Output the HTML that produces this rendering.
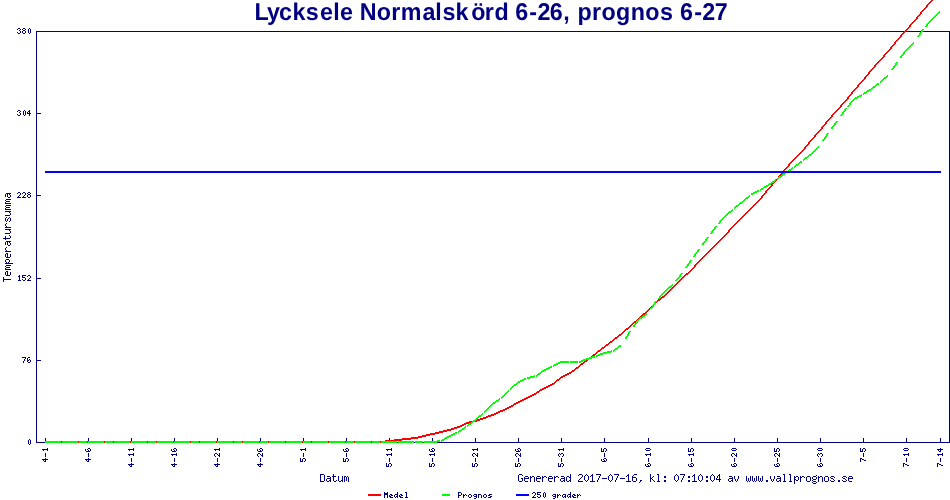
<!DOCTYPE html>
<html><head><meta charset="utf-8"><title>Lycksele</title>
<style>
html,body{margin:0;padding:0;background:#fff;}
#c{position:relative;width:950px;height:500px;overflow:hidden;background:#fff;}
svg{position:absolute;left:0;top:0;will-change:transform;transform:translateZ(0);}
</style></head><body>
<div id="c">
<svg width="950" height="500" viewBox="0 0 950 500" shape-rendering="crispEdges">
<path fill="#000080" d="M20 29h1v1h-1zM20 31h1v2h-1zM20 111h1v1h-1zM20 113h1v2h-1zM20 193h1v2h-1zM22 29h1v1h-1zM22 31h1v2h-1zM22 193h1v1h-1zM22 276h1v1h-1zM22 279h1v1h-1zM25 29h1v1h-1zM25 31h1v2h-1zM25 111h1v4h-1zM25 193h1v2h-1zM25 278h1v2h-1zM25 358h1v1h-1zM28 29h1v4h-1zM28 279h1v1h-1zM28 440h1v4h-1zM30 29h1v4h-1zM30 193h1v1h-1zM30 195h1v2h-1zM30 276h1v2h-1zM30 360h1v2h-1zM30 440h1v4h-1zM36 31h868v1h-868zM906 31h15v1h-15zM923 31h27v1h-27zM36 442h9v1h-9zM397 442h1v1h-1zM397 492h1v2h-1zM397 495h1v1h-1zM397 497h1v1h-1zM414 442h1v1h-1zM423 442h1v1h-1zM437 442h513v1h-513zM17 29h1v1h-1zM17 32h1v1h-1zM17 111h1v1h-1zM17 114h1v1h-1zM17 193h1v1h-1zM36 32h1v81h-1zM36 114h1v81h-1zM36 196h1v82h-1zM36 279h1v81h-1zM36 361h1v81h-1zM949 32h1v410h-1zM18 28h2v1h-2zM18 33h2v1h-2zM18 110h2v1h-2zM18 115h2v1h-2zM18 192h2v1h-2zM18 276h2v1h-2zM23 28h2v1h-2zM23 30h2v1h-2zM23 33h2v1h-2zM23 192h2v1h-2zM23 280h2v1h-2zM29 28h1v1h-1zM29 33h1v1h-1zM29 110h1v1h-1zM29 112h1v1h-1zM29 114h1v2h-1zM29 278h1v1h-1zM29 359h1v1h-1zM29 439h1v1h-1zM29 444h1v1h-1zM24 110h1v1h-1zM24 115h1v1h-1zM24 195h1v1h-1zM24 359h1v2h-1zM23 111h1v4h-1zM23 196h1v1h-1zM23 361h1v2h-1zM28 111h2v1h-2zM28 192h2v1h-2zM28 194h2v1h-2zM28 197h2v1h-2zM28 275h2v1h-2zM28 357h2v1h-2zM28 362h2v1h-2zM19 30h1v1h-1zM19 112h1v1h-1zM19 195h1v1h-1zM19 275h1v1h-1zM19 277h1v3h-1zM27 112h1v1h-1zM27 193h1v1h-1zM27 195h1v2h-1zM27 276h1v1h-1zM27 358h1v2h-1zM27 361h1v1h-1zM27 113h4v1h-4zM27 280h4v1h-4zM36 113h5v1h-5zM36 195h5v1h-5zM36 278h5v1h-5zM36 360h5v1h-5zM6 193h5v1h-5zM6 199h5v1h-5zM6 205h5v1h-5zM6 241h5v1h-5zM6 265h5v1h-5zM5 194h1v3h-1zM5 200h1v1h-1zM5 202h1v1h-1zM5 206h1v1h-1zM5 208h1v1h-1zM5 218h1v3h-1zM5 224h1v2h-1zM5 236h1v2h-1zM5 239h1v1h-1zM5 242h1v3h-1zM5 248h1v2h-1zM5 254h1v3h-1zM5 260h1v2h-1zM5 266h1v1h-1zM5 268h1v1h-1zM5 272h1v3h-1zM7 194h1v3h-1zM7 219h1v2h-1zM7 242h1v3h-1zM7 254h1v3h-1zM7 272h1v3h-1zM9 194h1v1h-1zM9 212h1v1h-1zM9 217h1v1h-1zM9 221h1v1h-1zM9 230h1v1h-1zM9 235h1v1h-1zM9 242h1v1h-1zM9 260h1v2h-1zM10 195h1v2h-1zM10 213h1v2h-1zM10 218h1v3h-1zM10 231h1v2h-1zM10 236h1v2h-1zM10 243h1v2h-1zM10 254h1v3h-1zM10 272h1v3h-1zM18 196h1v1h-1zM8 197h2v1h-2zM8 245h2v1h-2zM17 197h4v1h-4zM22 197h4v1h-4zM22 275h4v1h-4zM22 357h4v1h-4zM6 201h4v1h-4zM6 207h4v1h-4zM6 257h4v1h-4zM6 267h4v1h-4zM6 275h4v1h-4zM5 203h6v1h-6zM5 209h6v1h-6zM5 211h6v1h-6zM5 227h6v1h-6zM5 229h6v1h-6zM5 251h6v1h-6zM5 269h6v1h-6zM5 215h5v1h-5zM5 233h5v1h-5zM6 217h1v1h-1zM6 221h1v1h-1zM6 223h1v1h-1zM6 226h1v1h-1zM6 247h1v1h-1zM6 250h1v1h-1zM6 262h1v1h-1zM8 218h1v1h-1zM8 262h1v1h-1zM3 238h7v1h-7zM6 253h2v1h-2zM6 271h2v1h-2zM6 259h3v1h-3zM5 263h8v1h-8zM3 277h1v2h-1zM3 280h1v2h-1zM22 277h3v1h-3zM3 279h8v1h-8zM18 280h3v1h-3zM27 360h2v1h-2zM45 438h1v3h-1zM45 453h1v4h-1zM45 458h1v1h-1zM45 460h1v1h-1zM88 438h1v3h-1zM88 450h1v1h-1zM88 453h1v4h-1zM88 458h1v1h-1zM88 460h1v1h-1zM131 438h1v3h-1zM131 458h1v4h-1zM131 463h1v1h-1zM131 465h1v1h-1zM174 438h1v3h-1zM174 450h1v1h-1zM174 458h1v4h-1zM174 463h1v1h-1zM174 465h1v1h-1zM217 438h1v3h-1zM217 454h1v1h-1zM217 458h1v4h-1zM217 463h1v1h-1zM217 465h1v1h-1zM260 438h1v3h-1zM260 450h1v1h-1zM260 454h1v1h-1zM260 458h1v4h-1zM260 463h1v1h-1zM260 465h1v1h-1zM303 438h1v3h-1zM303 453h1v4h-1zM346 438h1v3h-1zM346 450h1v1h-1zM346 453h1v4h-1zM346 477h1v4h-1zM389 438h1v2h-1zM389 458h1v4h-1zM389 495h1v1h-1zM432 438h1v3h-1zM432 450h1v1h-1zM432 458h1v4h-1zM475 438h1v4h-1zM475 454h1v1h-1zM475 458h1v4h-1zM518 438h1v4h-1zM518 450h1v1h-1zM518 454h1v1h-1zM518 458h1v4h-1zM518 475h1v6h-1zM561 438h1v4h-1zM561 458h1v4h-1zM604 438h1v4h-1zM604 453h1v4h-1zM604 460h1v1h-1zM648 438h1v4h-1zM648 458h1v4h-1zM648 465h1v1h-1zM691 438h1v4h-1zM691 458h1v4h-1zM691 465h1v1h-1zM734 438h1v4h-1zM734 454h1v1h-1zM734 458h1v4h-1zM734 465h1v1h-1zM734 476h1v3h-1zM777 438h1v4h-1zM777 454h1v1h-1zM777 458h1v4h-1zM777 465h1v1h-1zM820 438h1v4h-1zM820 458h1v4h-1zM820 465h1v1h-1zM863 438h1v4h-1zM863 453h1v4h-1zM906 438h1v4h-1zM906 458h1v4h-1zM940 438h1v4h-1zM940 448h1v1h-1zM940 450h1v1h-1zM940 458h1v4h-1zM42 449h6v1h-6zM42 459h6v1h-6zM85 459h6v1h-6zM300 458h1v3h-1zM302 459h1v2h-1zM305 448h1v1h-1zM305 450h1v1h-1zM305 459h1v2h-1zM343 449h1v2h-1zM343 458h1v3h-1zM345 449h1v1h-1zM345 459h1v2h-1zM348 449h1v2h-1zM348 459h1v2h-1zM348 477h1v5h-1zM601 448h1v3h-1zM601 459h1v2h-1zM603 449h1v2h-1zM603 459h1v1h-1zM606 449h1v2h-1zM606 459h1v2h-1zM860 448h1v3h-1zM860 459h1v3h-1zM862 459h2v1h-2zM43 450h1v1h-1zM43 460h1v1h-1zM86 460h1v1h-1zM864 460h2v1h-2zM44 461h2v1h-2zM87 461h2v1h-2zM300 461h3v1h-3zM304 461h1v1h-1zM343 461h3v1h-3zM347 461h1v1h-1zM347 476h1v1h-1zM602 461h4v1h-4zM303 458h2v1h-2zM346 448h2v1h-2zM346 458h2v1h-2zM604 448h2v1h-2zM604 458h2v1h-2zM860 458h2v1h-2zM215 450h1v1h-1zM215 456h1v1h-1zM215 465h1v1h-1zM219 448h1v1h-1zM219 450h1v1h-1zM219 453h1v2h-1zM219 456h1v1h-1zM258 456h1v1h-1zM258 465h1v1h-1zM262 449h1v2h-1zM262 453h1v2h-1zM262 456h1v1h-1zM473 450h1v1h-1zM473 456h1v1h-1zM473 495h1v1h-1zM477 448h1v1h-1zM477 450h1v1h-1zM477 453h1v2h-1zM477 456h1v1h-1zM477 464h1v2h-1zM516 456h1v1h-1zM520 449h1v2h-1zM520 453h1v2h-1zM520 456h1v1h-1zM520 464h1v2h-1zM559 450h1v1h-1zM559 453h1v1h-1zM559 456h1v1h-1zM559 494h1v1h-1zM562 456h1v1h-1zM562 466h1v1h-1zM562 495h1v2h-1zM732 456h1v1h-1zM732 477h1v1h-1zM732 479h1v1h-1zM732 481h1v1h-1zM736 449h1v1h-1zM736 453h1v2h-1zM736 456h1v1h-1zM736 464h1v2h-1zM736 481h1v1h-1zM775 456h1v1h-1zM779 449h1v2h-1zM779 453h1v2h-1zM779 456h1v1h-1zM779 464h1v2h-1zM818 453h1v1h-1zM818 456h1v1h-1zM818 476h1v1h-1zM818 478h1v4h-1zM821 456h1v1h-1zM129 450h1v1h-1zM129 455h1v1h-1zM129 465h1v1h-1zM133 448h1v1h-1zM133 450h1v1h-1zM133 453h1v1h-1zM133 455h1v1h-1zM172 455h1v1h-1zM172 465h1v1h-1zM176 449h1v2h-1zM176 453h1v1h-1zM176 455h1v1h-1zM214 454h1v2h-1zM218 455h2v1h-2zM257 449h1v2h-1zM257 454h1v2h-1zM261 455h2v1h-2zM387 450h1v1h-1zM387 455h1v1h-1zM387 492h1v1h-1zM387 495h1v3h-1zM391 448h1v1h-1zM391 450h1v1h-1zM391 453h1v1h-1zM391 455h1v1h-1zM391 464h1v2h-1zM430 455h1v1h-1zM434 449h1v2h-1zM434 453h1v1h-1zM434 455h1v1h-1zM434 464h1v2h-1zM472 454h1v2h-1zM472 463h1v3h-1zM476 455h2v1h-2zM515 449h1v2h-1zM515 454h1v2h-1zM515 463h1v3h-1zM519 455h2v1h-2zM558 454h1v2h-1zM558 463h1v3h-1zM558 477h1v1h-1zM563 448h1v1h-1zM563 450h1v1h-1zM563 454h1v2h-1zM563 464h1v2h-1zM563 497h1v1h-1zM646 455h1v1h-1zM650 449h1v1h-1zM650 453h1v1h-1zM650 455h1v1h-1zM650 464h1v2h-1zM650 474h1v4h-1zM650 479h1v3h-1zM689 455h1v1h-1zM693 449h1v2h-1zM693 453h1v1h-1zM693 455h1v1h-1zM693 464h1v2h-1zM731 449h1v1h-1zM731 454h1v2h-1zM731 464h1v2h-1zM735 455h2v1h-2zM774 448h1v3h-1zM774 454h1v2h-1zM774 464h1v2h-1zM774 476h1v3h-1zM778 455h2v1h-2zM817 449h1v1h-1zM817 454h1v2h-1zM817 464h1v2h-1zM822 449h1v1h-1zM822 454h1v2h-1zM822 464h1v2h-1zM822 477h1v5h-1zM904 455h1v1h-1zM908 449h1v1h-1zM908 453h1v1h-1zM908 455h1v1h-1zM938 450h1v1h-1zM938 455h1v1h-1zM942 453h1v1h-1zM942 455h1v1h-1zM128 449h6v1h-6zM128 454h6v1h-6zM128 464h6v1h-6zM171 454h6v1h-6zM171 464h6v1h-6zM386 449h6v1h-6zM386 454h6v1h-6zM429 454h6v1h-6zM560 454h1v1h-1zM560 464h1v2h-1zM560 479h1v2h-1zM560 495h1v1h-1zM645 454h6v1h-6zM688 454h6v1h-6zM819 454h1v1h-1zM819 464h1v1h-1zM903 454h6v1h-6zM937 449h6v1h-6zM937 454h6v1h-6zM215 453h2v1h-2zM258 453h2v1h-2zM473 453h2v1h-2zM516 453h2v1h-2zM561 453h2v1h-2zM561 463h2v1h-2zM561 481h2v1h-2zM732 453h2v1h-2zM775 453h2v1h-2zM820 453h2v1h-2zM820 463h2v1h-2zM820 476h2v1h-2zM85 449h1v2h-1zM87 449h1v1h-1zM90 449h1v2h-1zM171 449h1v2h-1zM173 449h1v1h-1zM214 449h6v1h-6zM214 464h6v1h-6zM259 449h1v1h-1zM300 449h6v1h-6zM429 449h1v2h-1zM429 463h1v3h-1zM431 449h1v1h-1zM431 464h1v2h-1zM472 449h6v1h-6zM517 449h1v1h-1zM517 464h1v2h-1zM558 449h6v1h-6zM645 449h1v1h-1zM645 464h1v2h-1zM688 448h1v3h-1zM688 464h1v2h-1zM690 449h1v2h-1zM690 464h1v1h-1zM776 449h1v2h-1zM776 464h1v1h-1zM776 479h1v2h-1zM862 449h1v2h-1zM865 449h1v2h-1zM903 449h1v1h-1zM903 464h1v3h-1zM47 448h1v1h-1zM47 450h1v1h-1zM301 450h1v1h-1zM646 448h4v1h-4zM646 450h4v1h-4zM646 466h4v1h-4zM732 448h4v1h-4zM732 450h4v1h-4zM732 466h4v1h-4zM818 448h4v1h-4zM818 450h4v1h-4zM818 466h4v1h-4zM904 448h4v1h-4zM904 450h4v1h-4zM88 448h2v1h-2zM174 448h2v1h-2zM260 448h2v1h-2zM432 448h2v1h-2zM432 463h2v1h-2zM518 448h2v1h-2zM518 463h2v1h-2zM691 448h2v1h-2zM691 463h2v1h-2zM777 448h2v1h-2zM777 463h2v1h-2zM777 481h2v1h-2zM863 448h2v1h-2zM86 451h4v1h-4zM172 451h4v1h-4zM258 451h4v1h-4zM344 451h4v1h-4zM430 451h4v1h-4zM516 451h4v1h-4zM601 451h3v1h-3zM605 451h1v1h-1zM688 451h3v1h-3zM692 451h1v1h-1zM692 476h1v1h-1zM774 451h3v1h-3zM778 451h1v1h-1zM860 451h3v1h-3zM864 451h1v1h-1zM939 451h2v1h-2zM939 464h2v1h-2zM257 464h6v1h-6zM386 463h1v3h-1zM388 464h1v2h-1zM474 464h1v2h-1zM647 464h1v1h-1zM733 464h1v1h-1zM905 464h2v1h-2zM937 464h1v3h-1zM907 465h2v1h-2zM941 465h2v1h-2zM130 466h2v1h-2zM173 466h2v1h-2zM216 466h2v1h-2zM259 466h2v1h-2zM386 466h3v1h-3zM390 466h1v1h-1zM429 466h3v1h-3zM433 466h1v1h-1zM472 466h3v1h-3zM476 466h1v1h-1zM476 495h1v1h-1zM476 497h1v1h-1zM515 466h3v1h-3zM519 466h1v1h-1zM558 466h3v1h-3zM689 466h4v1h-4zM775 466h4v1h-4zM389 463h2v1h-2zM389 496h2v1h-2zM475 463h2v1h-2zM648 463h2v1h-2zM734 463h2v1h-2zM903 463h2v1h-2zM937 463h2v1h-2zM320 474h4v1h-4zM320 481h4v1h-4zM333 474h1v2h-1zM333 477h1v4h-1zM519 474h3v1h-3zM519 481h3v1h-3zM570 474h1v3h-1zM570 478h1v2h-1zM570 481h1v1h-1zM570 492h1v2h-1zM570 495h1v1h-1zM570 497h1v1h-1zM579 474h3v1h-3zM586 474h1v1h-1zM586 481h1v1h-1zM592 474h1v1h-1zM592 476h1v5h-1zM596 474h5v1h-5zM610 474h1v1h-1zM610 481h1v1h-1zM614 474h5v1h-5zM628 474h1v1h-1zM628 476h1v5h-1zM634 474h3v1h-3zM657 474h2v1h-2zM676 474h1v1h-1zM676 481h1v1h-1zM680 474h5v1h-5zM694 474h1v1h-1zM694 476h1v5h-1zM700 474h1v1h-1zM700 481h1v1h-1zM712 474h1v1h-1zM712 481h1v1h-1zM719 474h1v1h-1zM719 476h1v3h-1zM719 480h1v2h-1zM783 474h2v1h-2zM789 474h2v1h-2zM320 475h1v6h-1zM324 475h1v6h-1zM522 475h1v1h-1zM522 479h1v2h-1zM578 475h1v1h-1zM578 480h1v1h-1zM582 475h1v2h-1zM585 475h1v1h-1zM585 480h1v1h-1zM587 475h1v1h-1zM587 480h1v1h-1zM591 475h2v1h-2zM600 475h1v1h-1zM609 475h1v1h-1zM609 480h1v1h-1zM611 475h1v1h-1zM611 480h1v1h-1zM618 475h1v1h-1zM627 475h2v1h-2zM633 475h1v1h-1zM658 475h1v6h-1zM675 475h1v1h-1zM675 480h1v1h-1zM677 475h1v1h-1zM677 480h1v1h-1zM684 475h1v1h-1zM693 475h2v1h-2zM699 475h1v1h-1zM699 480h1v1h-1zM701 475h1v1h-1zM701 480h1v1h-1zM711 475h1v1h-1zM711 480h1v1h-1zM713 475h1v1h-1zM713 480h1v1h-1zM718 475h2v1h-2zM784 475h1v6h-1zM790 475h1v6h-1zM816 475h1v1h-1zM816 477h1v2h-1zM816 482h1v1h-1zM327 476h3v1h-3zM332 476h4v1h-4zM338 476h1v5h-1zM342 476h1v4h-1zM342 481h1v1h-1zM344 476h2v1h-2zM525 476h3v1h-3zM525 481h3v1h-3zM530 476h1v1h-1zM530 478h1v4h-1zM532 476h2v1h-2zM537 476h3v1h-3zM537 481h3v1h-3zM537 494h3v1h-3zM542 476h1v1h-1zM542 478h1v4h-1zM544 476h2v1h-2zM549 476h3v1h-3zM549 481h3v1h-3zM554 476h1v1h-1zM554 478h1v4h-1zM556 476h2v1h-2zM561 476h3v1h-3zM567 476h2v1h-2zM567 481h2v1h-2zM584 476h1v4h-1zM588 476h1v4h-1zM590 476h1v1h-1zM599 476h1v2h-1zM608 476h1v4h-1zM612 476h1v4h-1zM617 476h1v2h-1zM626 476h1v1h-1zM632 476h1v1h-1zM632 478h1v3h-1zM653 476h1v1h-1zM653 480h1v1h-1zM664 476h2v2h-2zM664 480h2v2h-2zM674 476h1v4h-1zM678 476h1v4h-1zM683 476h1v2h-1zM688 476h2v2h-2zM688 480h2v2h-2zM698 476h1v4h-1zM702 476h1v4h-1zM706 476h2v2h-2zM706 480h2v2h-2zM710 476h1v4h-1zM714 476h1v4h-1zM717 476h1v2h-1zM729 476h3v1h-3zM738 476h1v3h-1zM746 476h1v5h-1zM750 476h1v5h-1zM752 476h1v5h-1zM756 476h1v5h-1zM758 476h1v5h-1zM762 476h1v5h-1zM770 476h1v3h-1zM777 476h3v1h-3zM794 476h1v1h-1zM794 478h1v1h-1zM794 480h1v4h-1zM796 476h2v1h-2zM796 480h2v1h-2zM800 476h1v1h-1zM800 478h1v4h-1zM802 476h2v1h-2zM807 476h3v1h-3zM807 481h3v1h-3zM813 476h3v1h-3zM813 479h3v1h-3zM813 481h3v1h-3zM813 483h3v1h-3zM825 476h3v1h-3zM825 481h3v1h-3zM831 476h3v1h-3zM831 481h3v1h-3zM843 476h3v1h-3zM843 481h3v1h-3zM849 476h3v1h-3zM849 481h3v1h-3zM330 477h1v1h-1zM330 479h1v1h-1zM330 481h1v1h-1zM344 477h1v5h-1zM524 477h1v1h-1zM524 479h1v2h-1zM528 477h1v1h-1zM530 477h2v1h-2zM534 477h1v5h-1zM534 495h1v1h-1zM536 477h1v1h-1zM536 479h1v2h-1zM540 477h1v1h-1zM540 495h1v2h-1zM542 477h2v1h-2zM546 477h1v1h-1zM548 477h1v1h-1zM548 479h1v2h-1zM552 477h1v1h-1zM552 495h1v1h-1zM554 477h2v1h-2zM564 477h1v1h-1zM564 479h1v1h-1zM564 481h1v1h-1zM566 477h1v4h-1zM569 477h2v1h-2zM569 480h2v1h-2zM569 496h2v1h-2zM581 477h1v1h-1zM632 477h4v1h-4zM652 477h1v1h-1zM652 479h1v1h-1zM780 477h1v1h-1zM780 479h1v1h-1zM780 481h1v1h-1zM794 477h2v1h-2zM794 479h2v1h-2zM798 477h1v3h-1zM800 477h2v1h-2zM804 477h1v1h-1zM806 477h1v4h-1zM810 477h1v4h-1zM812 477h1v2h-1zM812 480h1v1h-1zM812 482h1v1h-1zM818 477h2v1h-2zM824 477h1v4h-1zM828 477h1v4h-1zM830 477h1v1h-1zM830 480h1v1h-1zM834 477h1v1h-1zM834 480h1v1h-1zM842 477h1v1h-1zM842 480h1v1h-1zM846 477h1v1h-1zM846 480h1v1h-1zM848 477h1v1h-1zM848 479h1v2h-1zM852 477h1v1h-1zM327 478h4v1h-4zM521 478h2v1h-2zM524 478h5v1h-5zM536 478h5v1h-5zM548 478h5v1h-5zM561 478h4v1h-4zM580 478h1v1h-1zM580 495h1v1h-1zM598 478h1v2h-1zM602 478h5v1h-5zM616 478h1v2h-1zM620 478h5v1h-5zM636 478h1v3h-1zM650 478h2v1h-2zM682 478h1v2h-1zM716 478h1v1h-1zM729 478h4v1h-4zM748 478h1v3h-1zM754 478h1v3h-1zM760 478h1v3h-1zM777 478h4v1h-4zM831 478h2v1h-2zM843 478h2v1h-2zM848 478h5v1h-5zM326 479h1v2h-1zM579 479h1v1h-1zM579 494h1v1h-1zM716 479h5v1h-5zM728 479h1v2h-1zM735 479h1v2h-1zM737 479h1v2h-1zM771 479h1v2h-1zM773 479h1v2h-1zM833 479h1v1h-1zM845 479h1v1h-1zM329 480h2v1h-2zM336 480h1v1h-1zM341 480h2v1h-2zM563 480h2v1h-2zM597 480h1v2h-1zM615 480h1v2h-1zM640 480h2v1h-2zM681 480h1v2h-1zM731 480h2v1h-2zM766 480h2v2h-2zM779 480h2v1h-2zM838 480h2v2h-2zM327 481h2v1h-2zM334 481h2v1h-2zM339 481h2v1h-2zM578 481h5v1h-5zM590 481h5v1h-5zM626 481h5v1h-5zM633 481h3v1h-3zM640 481h1v1h-1zM654 481h1v1h-1zM657 481h3v1h-3zM692 481h5v1h-5zM729 481h2v1h-2zM747 481h1v1h-1zM749 481h1v1h-1zM753 481h1v1h-1zM755 481h1v1h-1zM759 481h1v1h-1zM761 481h1v1h-1zM772 481h1v1h-1zM783 481h3v1h-3zM789 481h3v1h-3zM639 482h1v1h-1zM384 492h1v1h-1zM384 495h1v3h-1zM405 492h2v1h-2zM458 492h3v1h-3zM458 495h3v1h-3zM533 492h2v1h-2zM537 492h4v1h-4zM544 492h1v1h-1zM544 497h1v1h-1zM384 493h4v2h-4zM406 493h1v4h-1zM458 493h1v2h-1zM458 496h1v2h-1zM461 493h1v2h-1zM532 493h1v1h-1zM535 493h1v2h-1zM537 493h1v1h-1zM537 496h1v1h-1zM543 493h1v4h-1zM545 493h1v4h-1zM390 494h2v1h-2zM395 494h3v1h-3zM400 494h2v1h-2zM463 494h1v1h-1zM463 496h1v2h-1zM465 494h1v1h-1zM469 494h2v1h-2zM469 497h2v1h-2zM474 494h3v1h-3zM474 496h3v1h-3zM478 494h3v1h-3zM484 494h2v1h-2zM484 497h2v1h-2zM489 494h3v1h-3zM553 494h3v1h-3zM553 496h3v1h-3zM557 494h1v1h-1zM557 496h1v2h-1zM563 494h3v1h-3zM568 494h3v1h-3zM573 494h2v1h-2zM577 494h1v1h-1zM577 496h1v2h-1zM391 495h2v1h-2zM394 495h1v2h-1zM399 495h1v1h-1zM401 495h2v1h-2zM463 495h2v1h-2zM466 495h1v1h-1zM468 495h1v2h-1zM471 495h1v2h-1zM478 495h1v3h-1zM481 495h1v3h-1zM483 495h1v2h-1zM486 495h1v2h-1zM488 495h2v1h-2zM555 495h1v1h-1zM555 497h1v1h-1zM557 495h2v1h-2zM565 495h1v1h-1zM565 497h1v1h-1zM567 495h1v2h-1zM572 495h1v1h-1zM574 495h2v1h-2zM577 495h2v1h-2zM396 496h2v1h-2zM399 496h2v1h-2zM490 496h2v1h-2zM533 496h1v1h-1zM564 496h2v1h-2zM572 496h2v1h-2zM390 497h3v1h-3zM395 497h1v1h-1zM400 497h3v1h-3zM405 497h3v1h-3zM488 497h3v1h-3zM532 497h4v1h-4zM538 497h2v1h-2zM568 497h1v1h-1zM573 497h3v1h-3zM474 498h2v1h-2zM553 498h2v1h-2z"/>
<path fill="#ff0000" d="M904 31h2v1h-2zM61 441h1v2h-1zM78 441h1v2h-1zM87 441h1v2h-1zM104 441h1v2h-1zM113 441h1v2h-1zM130 441h1v2h-1zM147 441h1v2h-1zM156 441h1v2h-1zM173 441h1v2h-1zM190 441h1v2h-1zM199 441h1v2h-1zM216 441h1v2h-1zM233 441h1v2h-1zM242 441h1v2h-1zM259 441h1v2h-1zM268 441h1v2h-1zM285 441h1v2h-1zM302 441h1v2h-1zM311 441h1v2h-1zM328 441h1v2h-1zM345 441h1v2h-1zM354 441h1v2h-1zM371 441h1v2h-1zM380 441h1v2h-1zM385 440h17v1h-17zM394 439h17v1h-17zM402 438h16v1h-16zM411 437h11v1h-11zM418 436h8v1h-8zM422 435h8v1h-8zM426 434h9v1h-9zM430 433h9v1h-9zM435 432h8v1h-8zM439 431h8v1h-8zM443 430h8v1h-8zM447 429h7v1h-7zM451 428h6v1h-6zM454 427h6v1h-6zM457 426h5v1h-5zM460 425h4v1h-4zM462 424h4v1h-4zM464 423h5v1h-5zM466 422h5v1h-5zM469 421h3v1h-3zM475 421h2v1h-2zM476 420h4v1h-4zM477 419h6v1h-6zM480 418h6v1h-6zM483 417h5v1h-5zM486 416h5v1h-5zM488 415h6v1h-6zM491 414h5v1h-5zM494 413h4v1h-4zM496 412h4v1h-4zM498 411h5v1h-5zM500 410h5v1h-5zM503 409h4v1h-4zM505 408h4v1h-4zM507 407h4v1h-4zM509 406h4v1h-4zM511 405h3v1h-3zM513 404h3v1h-3zM514 403h4v1h-4zM516 402h4v1h-4zM518 401h4v1h-4zM520 400h4v1h-4zM522 399h4v1h-4zM524 398h4v1h-4zM526 397h4v1h-4zM528 396h4v1h-4zM530 395h4v1h-4zM532 394h4v1h-4zM534 393h3v1h-3zM536 392h3v1h-3zM537 391h3v1h-3zM539 390h3v1h-3zM540 389h4v1h-4zM542 388h4v1h-4zM544 387h4v1h-4zM546 386h4v1h-4zM548 385h4v1h-4zM550 384h4v1h-4zM552 383h3v1h-3zM554 382h2v1h-2zM555 381h2v1h-2zM556 380h3v1h-3zM557 379h3v1h-3zM559 378h2v1h-2zM560 377h3v1h-3zM561 376h4v1h-4zM563 375h4v1h-4zM565 374h4v1h-4zM567 373h4v1h-4zM569 372h3v1h-3zM571 371h3v1h-3zM572 370h3v1h-3zM574 369h2v1h-2zM575 368h3v1h-3zM576 367h3v1h-3zM578 366h2v1h-2zM579 365h2v1h-2zM580 364h3v1h-3zM581 363h3v1h-3zM583 362h2v1h-2zM584 361h3v1h-3zM586 360h2v1h-2zM591 356h1v1h-1zM592 355h3v1h-3zM593 354h3v1h-3zM595 353h2v1h-2zM596 352h2v1h-2zM597 351h3v1h-3zM598 350h3v1h-3zM600 349h2v1h-2zM601 348h3v1h-3zM602 347h3v1h-3zM604 346h2v1h-2zM605 345h3v1h-3zM606 344h3v1h-3zM608 343h2v1h-2zM609 342h3v1h-3zM610 341h3v1h-3zM612 340h2v1h-2zM613 339h2v1h-2zM614 338h3v1h-3zM615 337h3v1h-3zM617 336h2v1h-2zM618 335h3v1h-3zM619 334h3v1h-3zM621 333h2v1h-2zM622 332h2v1h-2zM623 331h2v1h-2zM624 330h2v1h-2zM625 329h3v1h-3zM626 328h3v1h-3zM628 327h2v1h-2zM629 326h2v1h-2zM630 325h2v1h-2zM631 324h2v1h-2zM632 323h2v1h-2zM633 322h3v1h-3zM634 321h2v1h-2zM636 320h1v1h-1zM637 319h1v1h-1zM638 318h1v1h-1zM639 317h1v1h-1zM640 316h2v1h-2zM641 315h2v1h-2zM642 314h3v1h-3zM643 313h3v1h-3zM645 312h2v1h-2zM646 311h2v1h-2zM647 310h2v1h-2zM648 309h2v1h-2zM649 308h1v1h-1zM650 307h1v1h-1zM651 306h1v1h-1zM656 302h1v1h-1zM657 300h3v1h-3zM657 301h1v1h-1zM658 299h3v1h-3zM660 298h2v1h-2zM661 297h3v1h-3zM662 296h3v1h-3zM664 295h2v1h-2zM665 294h2v1h-2zM666 293h2v1h-2zM667 292h2v1h-2zM668 291h2v1h-2zM669 290h2v1h-2zM670 289h2v1h-2zM671 288h2v1h-2zM672 287h2v1h-2zM673 286h2v1h-2zM674 285h2v1h-2zM675 284h2v1h-2zM676 283h2v1h-2zM677 282h2v1h-2zM678 281h2v1h-2zM679 280h2v1h-2zM680 279h2v1h-2zM681 278h2v1h-2zM682 277h2v1h-2zM683 276h2v1h-2zM684 275h2v1h-2zM685 274h3v1h-3zM686 273h3v1h-3zM688 272h2v1h-2zM689 271h2v1h-2zM690 270h2v1h-2zM691 269h2v1h-2zM698 261h2v1h-2zM697 262h2v1h-2zM696 263h2v1h-2zM695 264h2v1h-2zM694 265h2v2h-2zM693 267h2v1h-2zM692 268h2v1h-2zM699 260h2v1h-2zM700 259h2v1h-2zM701 258h2v1h-2zM702 257h2v1h-2zM703 256h2v1h-2zM704 255h2v1h-2zM705 254h2v1h-2zM706 253h2v1h-2zM707 252h2v1h-2zM708 251h2v1h-2zM709 250h2v1h-2zM710 249h2v1h-2zM711 248h2v1h-2zM712 247h2v1h-2zM713 246h2v1h-2zM714 245h2v1h-2zM715 244h2v1h-2zM716 243h2v1h-2zM717 242h2v1h-2zM718 241h2v1h-2zM719 240h2v1h-2zM720 239h2v1h-2zM721 238h2v1h-2zM722 237h2v1h-2zM723 236h2v1h-2zM724 235h2v1h-2zM725 234h2v1h-2zM733 225h2v1h-2zM732 226h2v1h-2zM731 227h2v1h-2zM730 228h2v1h-2zM729 229h2v1h-2zM728 230h2v2h-2zM727 232h2v1h-2zM726 233h2v1h-2zM734 224h2v1h-2zM735 223h2v1h-2zM736 222h2v1h-2zM737 221h2v1h-2zM738 220h2v1h-2zM739 219h2v1h-2zM740 218h2v1h-2zM741 217h2v1h-2zM742 216h2v1h-2zM743 215h2v1h-2zM744 214h2v1h-2zM745 213h2v1h-2zM746 212h2v1h-2zM747 211h2v1h-2zM748 210h2v1h-2zM749 209h2v1h-2zM750 208h2v1h-2zM751 207h2v1h-2zM752 206h2v1h-2zM753 205h2v1h-2zM754 204h2v1h-2zM755 203h2v1h-2zM756 202h2v1h-2zM757 201h2v1h-2zM758 200h2v1h-2zM759 199h2v1h-2zM760 198h2v1h-2zM767 189h2v1h-2zM766 190h2v1h-2zM765 191h2v2h-2zM764 193h2v1h-2zM763 194h2v1h-2zM762 195h2v1h-2zM761 196h2v2h-2zM776 179h1v2h-1zM775 181h1v1h-1zM774 182h1v1h-1zM772 183h2v1h-2zM771 184h2v2h-2zM770 186h2v1h-2zM769 187h2v1h-2zM768 188h2v1h-2zM784 169h2v1h-2zM783 170h2v1h-2zM781 173h2v1h-2zM780 174h2v1h-2zM779 175h2v1h-2zM778 176h1v1h-1zM793 159h2v1h-2zM792 160h2v1h-2zM791 161h2v1h-2zM790 162h2v1h-2zM789 163h2v1h-2zM788 164h2v2h-2zM787 166h2v1h-2zM786 167h2v1h-2zM785 168h2v1h-2zM794 158h2v1h-2zM795 157h2v1h-2zM796 156h2v1h-2zM797 155h2v1h-2zM798 154h2v1h-2zM799 153h2v1h-2zM800 152h2v1h-2zM801 151h2v1h-2zM802 150h2v1h-2zM803 149h2v1h-2zM810 140h2v1h-2zM809 141h2v1h-2zM808 142h2v2h-2zM807 144h2v1h-2zM806 145h2v1h-2zM805 146h2v1h-2zM804 147h2v2h-2zM819 130h2v1h-2zM818 131h2v1h-2zM817 132h2v1h-2zM816 133h2v1h-2zM815 134h2v1h-2zM814 135h2v2h-2zM813 137h2v1h-2zM812 138h2v1h-2zM811 139h2v1h-2zM827 120h2v1h-2zM826 121h2v1h-2zM825 122h2v2h-2zM824 124h2v1h-2zM823 125h2v1h-2zM822 126h2v1h-2zM821 127h2v2h-2zM820 129h2v1h-2zM836 110h2v1h-2zM835 111h2v1h-2zM834 112h2v1h-2zM833 113h2v1h-2zM832 114h2v1h-2zM831 115h2v2h-2zM830 117h2v1h-2zM829 118h2v1h-2zM828 119h2v1h-2zM845 100h2v1h-2zM844 101h2v1h-2zM843 102h2v1h-2zM842 103h2v1h-2zM841 104h2v1h-2zM840 105h2v2h-2zM839 107h2v1h-2zM838 108h2v1h-2zM837 109h2v1h-2zM853 90h2v1h-2zM852 91h2v1h-2zM851 92h2v2h-2zM850 94h2v1h-2zM849 95h2v1h-2zM848 96h2v1h-2zM847 97h2v2h-2zM846 99h2v1h-2zM862 80h2v1h-2zM861 81h2v1h-2zM860 82h2v1h-2zM859 83h2v1h-2zM858 84h2v1h-2zM857 85h2v2h-2zM856 87h2v1h-2zM855 88h2v1h-2zM854 89h2v1h-2zM870 70h2v1h-2zM869 71h2v1h-2zM868 72h2v2h-2zM867 74h2v1h-2zM866 75h2v1h-2zM865 76h2v1h-2zM864 77h2v2h-2zM863 79h2v1h-2zM879 60h2v1h-2zM878 61h2v1h-2zM877 62h2v1h-2zM876 63h2v1h-2zM875 64h2v1h-2zM874 65h2v2h-2zM873 67h2v1h-2zM872 68h2v1h-2zM871 69h2v1h-2zM888 50h2v1h-2zM887 51h2v1h-2zM886 52h2v1h-2zM885 53h2v1h-2zM884 54h2v1h-2zM883 55h2v2h-2zM882 57h2v1h-2zM881 58h2v1h-2zM880 59h2v1h-2zM896 40h2v1h-2zM895 41h2v1h-2zM894 42h2v2h-2zM893 44h2v1h-2zM892 45h2v1h-2zM891 46h2v1h-2zM890 47h2v2h-2zM889 49h2v1h-2zM905 30h2v1h-2zM903 32h2v1h-2zM902 33h2v1h-2zM901 34h2v1h-2zM900 35h2v2h-2zM899 37h2v1h-2zM898 38h2v1h-2zM897 39h2v1h-2zM914 20h2v1h-2zM913 21h2v1h-2zM912 22h2v1h-2zM911 23h2v1h-2zM910 24h2v1h-2zM909 25h2v2h-2zM908 27h2v1h-2zM907 28h2v1h-2zM906 29h2v1h-2zM922 10h2v1h-2zM921 11h2v1h-2zM920 12h2v2h-2zM919 14h2v1h-2zM918 15h2v1h-2zM917 16h2v1h-2zM916 17h2v2h-2zM915 19h2v1h-2zM931 0h2v1h-2zM930 1h2v1h-2zM929 2h2v1h-2zM928 3h2v1h-2zM927 4h2v1h-2zM926 5h2v2h-2zM925 7h2v1h-2zM924 8h2v1h-2zM923 9h2v1h-2zM368 494h13v2h-13z"/>
<path fill="#00ff00" d="M921 30h2v2h-2zM45 441h16v2h-16zM62 441h16v2h-16zM79 441h8v2h-8zM88 441h16v2h-16zM105 441h8v2h-8zM114 441h16v2h-16zM131 441h16v2h-16zM148 441h8v2h-8zM157 441h16v2h-16zM174 441h16v2h-16zM191 441h8v2h-8zM200 441h16v2h-16zM217 441h16v2h-16zM234 441h8v2h-8zM243 441h16v2h-16zM260 441h8v2h-8zM269 441h16v2h-16zM286 441h16v2h-16zM303 441h8v2h-8zM312 441h16v2h-16zM329 441h16v2h-16zM346 441h8v2h-8zM355 441h16v2h-16zM372 441h8v2h-8zM381 441h16v2h-16zM398 441h16v2h-16zM415 441h8v2h-8zM424 442h13v1h-13zM424 441h16v1h-16zM441 441h1v1h-1zM471 422h2v1h-2zM472 421h3v1h-3zM473 420h3v1h-3zM581 360h5v1h-5zM583 359h6v1h-6zM586 358h6v1h-6zM589 357h6v1h-6zM592 356h3v1h-3zM596 356h2v1h-2zM636 321h2v2h-2zM637 320h2v1h-2zM638 319h2v1h-2zM639 318h3v1h-3zM640 317h3v1h-3zM650 308h2v1h-2zM651 307h2v1h-2zM652 305h2v2h-2zM653 304h2v1h-2zM654 302h2v2h-2zM655 301h2v1h-2zM775 179h1v1h-1zM777 179h1v1h-1zM774 180h2v1h-2zM772 181h3v1h-3zM771 182h3v1h-3zM779 176h3v1h-3zM778 177h3v1h-3zM777 178h2v1h-2zM437 440h3v1h-3zM441 440h3v1h-3zM442 439h3v1h-3zM444 438h3v1h-3zM445 437h4v1h-4zM447 436h4v1h-4zM449 435h4v1h-4zM451 434h4v1h-4zM453 433h4v1h-4zM455 432h2v1h-2zM458 432h1v1h-1zM458 431h3v1h-3zM459 430h3v1h-3zM461 429h3v1h-3zM462 428h3v1h-3zM464 427h2v1h-2zM465 426h1v1h-1zM467 426h1v1h-1zM467 425h2v1h-2zM468 424h3v1h-3zM469 423h3v1h-3zM475 419h2v1h-2zM476 418h2v1h-2zM477 417h2v1h-2zM478 416h3v1h-3zM479 415h3v1h-3zM481 414h2v1h-2zM482 413h1v1h-1zM484 411h2v1h-2zM484 412h1v1h-1zM485 410h2v1h-2zM486 409h2v1h-2zM487 408h2v1h-2zM488 407h2v1h-2zM489 406h2v1h-2zM490 405h2v1h-2zM491 404h2v1h-2zM492 403h3v1h-3zM493 402h3v1h-3zM495 401h3v1h-3zM496 400h3v1h-3zM498 399h2v1h-2zM499 398h1v1h-1zM501 398h1v1h-1zM501 397h2v1h-2zM502 396h2v1h-2zM503 395h2v1h-2zM504 394h2v1h-2zM505 393h2v1h-2zM506 392h2v1h-2zM507 391h2v1h-2zM508 390h1v1h-1zM510 388h2v1h-2zM510 389h1v1h-1zM511 387h2v1h-2zM512 386h2v1h-2zM513 385h3v1h-3zM514 384h3v1h-3zM516 383h2v1h-2zM517 382h3v1h-3zM518 381h4v1h-4zM520 380h4v1h-4zM522 379h4v1h-4zM524 378h2v1h-2zM527 378h3v1h-3zM527 377h7v1h-7zM530 376h5v1h-5zM536 376h1v1h-1zM534 375h1v1h-1zM536 375h2v1h-2zM537 374h3v1h-3zM538 373h3v1h-3zM540 372h2v1h-2zM541 371h3v1h-3zM542 370h4v1h-4zM544 369h4v1h-4zM546 368h4v1h-4zM548 367h4v1h-4zM550 366h2v1h-2zM553 366h1v1h-1zM553 365h3v1h-3zM554 364h4v1h-4zM556 363h4v1h-4zM558 362h11v1h-11zM570 361h8v2h-8zM579 362h2v1h-2zM560 361h9v1h-9zM579 361h4v1h-4zM596 355h4v1h-4zM598 354h5v1h-5zM600 353h7v1h-7zM603 352h8v1h-8zM607 351h5v1h-5zM613 351h1v1h-1zM611 350h1v1h-1zM613 350h2v1h-2zM614 349h3v1h-3zM615 348h3v1h-3zM617 347h2v1h-2zM618 346h3v1h-3zM619 345h2v1h-2zM629 331h2v1h-2zM628 332h2v2h-2zM627 334h2v2h-2zM626 336h2v1h-2zM625 337h2v2h-2zM635 323h2v1h-2zM634 324h2v1h-2zM633 325h2v2h-2zM642 316h3v1h-3zM643 315h3v1h-3zM645 314h2v1h-2zM646 313h1v1h-1zM664 291h2v1h-2zM663 292h2v1h-2zM662 293h2v1h-2zM661 294h2v1h-2zM660 295h2v1h-2zM659 296h2v2h-2zM658 298h2v1h-2zM665 290h2v1h-2zM666 289h2v1h-2zM667 288h2v1h-2zM668 287h3v1h-3zM669 286h3v1h-3zM671 285h2v1h-2zM672 284h1v1h-1zM681 273h2v1h-2zM680 274h2v1h-2zM679 275h2v2h-2zM678 277h2v1h-2zM677 278h2v1h-2zM676 279h2v1h-2zM675 280h2v1h-2zM690 260h2v1h-2zM689 261h2v2h-2zM688 263h2v1h-2zM687 264h2v2h-2zM686 266h2v1h-2zM685 267h2v1h-2zM698 249h2v1h-2zM697 250h2v2h-2zM696 252h2v1h-2zM695 253h2v1h-2zM694 254h2v2h-2zM693 256h2v1h-2zM707 237h2v1h-2zM706 238h2v1h-2zM705 239h2v2h-2zM704 241h2v1h-2zM703 242h2v1h-2zM702 243h2v2h-2zM715 226h2v1h-2zM714 227h2v2h-2zM713 229h2v1h-2zM712 230h2v1h-2zM711 231h2v2h-2zM710 233h2v1h-2zM724 216h2v1h-2zM723 217h2v1h-2zM722 218h2v1h-2zM721 219h2v1h-2zM720 220h2v1h-2zM719 221h2v2h-2zM718 223h2v1h-2zM725 215h2v1h-2zM726 214h2v1h-2zM727 213h2v1h-2zM728 212h3v1h-3zM729 211h3v1h-3zM731 210h2v1h-2zM732 209h1v1h-1zM734 207h2v1h-2zM734 208h1v1h-1zM735 206h3v1h-3zM736 205h3v1h-3zM738 204h2v1h-2zM739 203h3v1h-3zM740 202h3v1h-3zM742 201h2v1h-2zM743 200h2v1h-2zM744 199h2v1h-2zM745 198h3v1h-3zM746 197h3v1h-3zM748 196h2v1h-2zM749 195h1v1h-1zM751 193h4v1h-4zM751 194h2v1h-2zM753 192h4v1h-4zM755 191h4v1h-4zM757 190h2v1h-2zM760 190h1v1h-1zM760 189h3v1h-3zM761 188h3v1h-3zM763 187h3v1h-3zM764 186h4v1h-4zM766 185h3v1h-3zM768 184h3v1h-3zM769 183h3v1h-3zM781 175h2v1h-2zM782 174h3v1h-3zM783 173h3v1h-3zM788 170h3v1h-3zM789 169h3v1h-3zM791 168h2v1h-2zM792 167h1v1h-1zM794 167h1v1h-1zM794 166h2v1h-2zM795 165h3v1h-3zM796 164h3v1h-3zM798 163h2v1h-2zM799 162h3v1h-3zM800 161h2v1h-2zM803 159h2v1h-2zM803 160h1v1h-1zM804 158h3v1h-3zM805 157h3v1h-3zM807 156h2v1h-2zM808 155h3v1h-3zM809 154h3v1h-3zM811 153h2v1h-2zM812 152h2v1h-2zM813 151h2v1h-2zM814 150h2v1h-2zM815 149h2v1h-2zM816 148h2v1h-2zM817 147h2v1h-2zM818 146h1v1h-1zM827 133h2v1h-2zM826 134h2v2h-2zM825 136h2v1h-2zM824 137h2v2h-2zM823 139h2v1h-2zM822 140h2v1h-2zM836 121h2v1h-2zM835 122h2v1h-2zM834 123h2v2h-2zM833 125h2v1h-2zM832 126h2v1h-2zM831 127h2v2h-2zM845 108h2v1h-2zM844 109h2v2h-2zM843 111h2v1h-2zM842 112h2v2h-2zM841 114h2v1h-2zM840 115h2v1h-2zM853 99h2v1h-2zM852 100h2v1h-2zM851 101h2v1h-2zM850 102h2v1h-2zM849 103h2v2h-2zM848 105h2v1h-2zM847 106h2v1h-2zM854 98h3v1h-3zM855 97h4v1h-4zM857 96h4v1h-4zM859 95h3v1h-3zM861 94h1v1h-1zM863 94h1v1h-1zM863 93h3v1h-3zM864 92h3v1h-3zM866 91h3v1h-3zM867 90h4v1h-4zM869 89h3v1h-3zM871 88h2v1h-2zM872 87h3v1h-3zM873 86h3v1h-3zM875 85h2v1h-2zM876 84h3v1h-3zM877 83h2v1h-2zM880 81h2v1h-2zM880 82h1v1h-1zM881 80h2v1h-2zM882 79h2v1h-2zM883 78h3v1h-3zM884 77h3v1h-3zM886 76h2v1h-2zM887 75h1v1h-1zM896 62h2v1h-2zM895 63h2v2h-2zM894 65h2v1h-2zM893 66h2v2h-2zM892 68h2v1h-2zM891 69h2v1h-2zM905 50h2v1h-2zM904 51h2v1h-2zM903 52h2v2h-2zM902 54h2v1h-2zM901 55h2v1h-2zM900 56h2v2h-2zM906 49h2v1h-2zM907 48h2v1h-2zM908 47h2v1h-2zM909 46h2v1h-2zM910 45h2v1h-2zM911 44h2v1h-2zM912 43h2v1h-2zM913 42h1v1h-1zM922 29h2v1h-2zM920 32h2v1h-2zM919 33h2v2h-2zM918 35h2v1h-2zM917 36h2v1h-2zM931 19h2v1h-2zM930 20h2v1h-2zM929 21h2v1h-2zM928 22h2v1h-2zM927 23h2v1h-2zM926 24h2v2h-2zM925 26h2v1h-2zM932 18h2v1h-2zM933 17h2v1h-2zM934 16h2v1h-2zM935 15h2v1h-2zM936 14h2v1h-2zM937 13h2v1h-2zM938 12h2v1h-2zM939 11h1v1h-1zM442 494h8v2h-8z"/>
<path fill="#0000ff" d="M45 171h896v2h-896zM516 494h13v2h-13z"/>
<text id="ttl" transform="scale(0.9628,1)" y="20" x="264.23 277.44 289.70 303.74 317.58 332.34 346.17 353.17 368.14 373.78 391.32 406.27 416.36 438.88 452.20 459.70 473.02 489.34 503.56 513.66 528.61 535.29 549.74 558.18 570.96 584.99 592.73 599.83 614.98 624.77 639.93 655.08 670.23 685.38 699.20 706.32 720.97 729.41 742.41" font-family="'Liberation Sans', sans-serif" font-weight="bold" font-size="24.2" fill="#000080" text-rendering="geometricPrecision" xml:space="preserve">Lycksele Normalskörd 6-26, prognos 6-27</text>
</svg>
</div>
</body></html>
